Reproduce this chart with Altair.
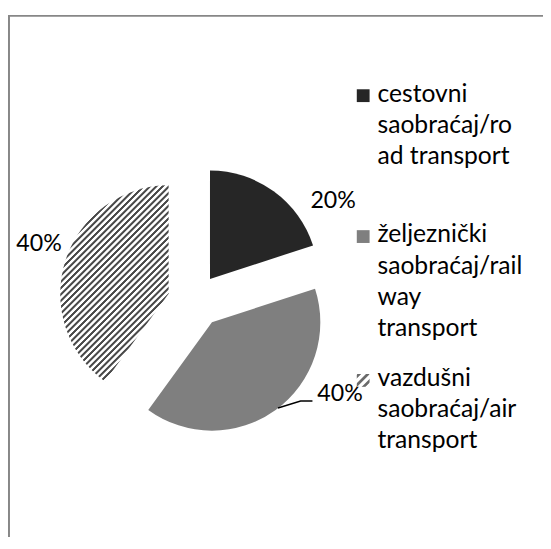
import altair as alt
import pandas as pd

# ---------------- data ----------------
CATEGORIES = [
    "cestovni saobraćaj/road transport",
    "željeznički saobraćaj/railway transport",
    "vazdušni saobraćaj/air transport",
]
SHARES = [20, 40, 40]
LABELS = ["20%", "40%", "40%"]
LEGEND_LINES = [
    ["cestovni", "saobraćaj/ro", "ad transport"],
    ["željeznički", "saobraćaj/rail", "way", "transport"],
    ["vazdušni", "saobraćaj/air", "transport"],
]

# ---------------- style ----------------
W, H = 543, 533
FONT = "Lato"
LABEL_SIZE = 23.5
LEGEND_SIZE = 25
PIE_CX, PIE_CY = 188, 288
RADIUS = 110
EXPLODE_DX = [17, 19, -25]
EXPLODE_DY = [-17, 27, -2]
LABEL_DX = [142, 149, -156.5]
LABEL_DY = [-89, 107, -45]
LEADER_X = [274, 297, 309]
LEADER_Y = [402, 395, 395]
LEG_SYMBOL_X = 360.5
LEG_TEXT_X = 375
LEG_BASELINE = [91, 234, 380]
LEG_LINE_H = 31.5
SOLID = ["#262626", "#7f7f7f", "#a0a0a0"]
BORDER = "#878787"


def stripes(n, x2, y2, dark, light, duty=0.42, soft=0.14):
    stops = []
    for k in range(n):
        b = k / n
        stops += [
            {"offset": b, "color": light},
            {"offset": b + soft / n, "color": dark},
            {"offset": b + (soft + duty) / n, "color": dark},
            {"offset": b + (2 * soft + duty) / n, "color": light},
        ]
    stops.append({"offset": 1, "color": light})
    return {"gradient": "linear", "x1": 0, "y1": 0, "x2": x2, "y2": y2, "stops": stops}


PIE_HATCH = stripes(48, 0.657, 1.189, "#4a4a4a", "#ffffff", duty=0.30, soft=0.16)
LEG_HATCH = stripes(3, 1, 1, "#6a6a6a", "#ffffff", duty=0.3, soft=0.15)
HATCH_TEST = f"datum.cat == '{CATEGORIES[2]}'"

pie_df = pd.DataFrame({
    "cat": CATEGORIES,
    "share": SHARES,
    "label": LABELS,
    "order": list(range(len(CATEGORIES))),
    "ex": EXPLODE_DX,
    "ey": EXPLODE_DY,
    "lx": LABEL_DX,
    "ly": LABEL_DY,
})

base = alt.Chart(pie_df).transform_joinaggregate(
    total="sum(share)"
).transform_window(
    cum="sum(share)", sort=[alt.SortField("order")], frame=[None, 0]
).transform_calculate(
    t0="2*PI*(datum.cum - datum.share)/datum.total",
    t1="2*PI*datum.cum/datum.total",
    px=f"{PIE_CX} + datum.ex",
    py=f"{PIE_CY} + datum.ey",
    tx=f"{PIE_CX} + datum.lx",
    ty=f"{PIE_CY} + datum.ly",
)

arcs = base.mark_arc(outerRadius=RADIUS, innerRadius=0, strokeWidth=0).encode(
    theta=alt.Theta("t0:Q", scale=None),
    theta2=alt.Theta2("t1:Q"),
    x=alt.X("px:Q", scale=None, axis=None),
    y=alt.Y("py:Q", scale=None, axis=None),
    color=alt.condition(
        HATCH_TEST,
        alt.value(PIE_HATCH),
        alt.Color("cat:N", scale=alt.Scale(domain=CATEGORIES, range=SOLID), legend=None),
    ),
)

labels = base.mark_text(
    font=FONT, fontSize=LABEL_SIZE, align="center", baseline="alphabetic", color="black"
).encode(
    x=alt.X("tx:Q", scale=None, axis=None),
    y=alt.Y("ty:Q", scale=None, axis=None),
    text="label:N",
)

leader_df = pd.DataFrame({"lx": LEADER_X, "ly": LEADER_Y, "i": [0, 1, 2]})
leader = alt.Chart(leader_df).mark_line(color="black", strokeWidth=1.5).encode(
    x=alt.X("lx:Q", scale=None, axis=None),
    y=alt.Y("ly:Q", scale=None, axis=None),
    order="i:Q",
)

leg_df = pd.DataFrame({
    "cat": CATEGORIES,
    "lines": LEGEND_LINES,
    "yb": LEG_BASELINE,
})
leg_base = alt.Chart(leg_df).transform_calculate(
    sy="datum.yb - 6",
    sx=str(LEG_SYMBOL_X),
    tx=str(LEG_TEXT_X),
)
leg_sq = leg_base.mark_point(shape="square", size=169, filled=True, opacity=1, strokeWidth=0).encode(
    x=alt.X("sx:Q", scale=None, axis=None),
    y=alt.Y("sy:Q", scale=None, axis=None),
    fill=alt.condition(
        HATCH_TEST,
        alt.value(LEG_HATCH),
        alt.Fill("cat:N", scale=alt.Scale(domain=CATEGORIES, range=SOLID), legend=None),
    ),
)
leg_txt = leg_base.mark_text(
    font=FONT, fontSize=LEGEND_SIZE, align="left", baseline="alphabetic",
    lineHeight=LEG_LINE_H, color="black",
).encode(
    x=alt.X("tx:Q", scale=None, axis=None),
    y=alt.Y("yb:Q", scale=None, axis=None),
    text="lines",
)

one = alt.Data(values=[{}])
border_left = alt.Chart(one).mark_rule(color=BORDER, strokeWidth=2).encode(
    x=alt.value(1), y=alt.value(3), y2=alt.value(H)
)
border_top = alt.Chart(one).mark_rule(color=BORDER, strokeWidth=2).encode(
    x=alt.value(0), x2=alt.value(W), y=alt.value(4)
)

chart = alt.layer(
    border_left, border_top, arcs, labels, leader, leg_sq, leg_txt
).properties(
    width=W, height=H, padding=0, autosize="none"
).configure_view(stroke=None)

chart.save("out.html", embed_options={"renderer": "svg", "actions": False})
